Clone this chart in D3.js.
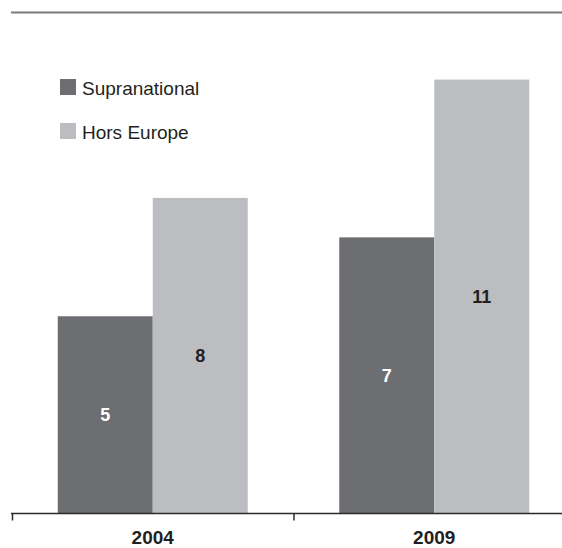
<!DOCTYPE html>
<html>
<head>
<meta charset="utf-8">
<script src="https://cdn.jsdelivr.net/npm/d3@7/dist/d3.min.js"></script>
<style>
  html, body { margin: 0; padding: 0; background: #fff; }
  svg { display: block; font-family: "Liberation Sans", Arial, Helvetica, sans-serif; }
</style>
</head>
<body>
<svg id="chart" width="562" height="548"></svg>
<script>
// Categories, series and values
const years = ["2004", "2009"];
const seriesNames = ["Supranational", "Hors Europe"];
const supranational = [5, 7];
const horsEurope = [8, 11];
const seriesColors = ["#6d6e71", "#bcbdc1"];
const labelColors = ["#ffffff", "#231f20"];

const rows = years.map((y, i) => ({ year: y, values: [supranational[i], horsEurope[i]] }));

const svg = d3.select("#chart");
const baseY = 513.5;
const topY = 12.5;

const x = d3.scaleBand().domain(years).range([12, 575]);
const y = d3.scaleLinear().domain([0, 12.7]).range([baseY, topY]);
const xInner = d3.scaleBand().domain(d3.range(seriesNames.length)).range([0, 190]);

// Top rule
svg.append("line")
  .attr("x1", 11).attr("x2", 562)
  .attr("y1", topY).attr("y2", topY)
  .attr("stroke", "#7a7a7a").attr("stroke-width", 2);

// Bars
const groups = svg.selectAll("g.group")
  .data(rows)
  .join("g")
  .attr("class", "group")
  .attr("transform", d => `translate(${x(d.year) + x.bandwidth() / 2 - 95},0)`);

groups.selectAll("rect")
  .data(d => d.values)
  .join("rect")
  .attr("x", (v, i) => xInner(i))
  .attr("width", xInner.bandwidth())
  .attr("y", v => y(v))
  .attr("height", v => baseY - y(v))
  .attr("fill", (v, i) => seriesColors[i]);

// Value labels centred in each bar
groups.selectAll("text.value")
  .data(d => d.values)
  .join("text")
  .attr("class", "value")
  .attr("x", (v, i) => xInner(i) + xInner.bandwidth() / 2)
  .attr("y", v => (y(v) + baseY) / 2)
  .attr("dy", "0.36em")
  .attr("text-anchor", "middle")
  .attr("font-size", 18)
  .attr("font-weight", "bold")
  .attr("fill", (v, i) => labelColors[i])
  .text(v => v);

// Category axis
const axisG = svg.append("g");
axisG.append("line")
  .attr("x1", 11).attr("x2", 562)
  .attr("y1", baseY).attr("y2", baseY)
  .attr("stroke", "#2b2b2b").attr("stroke-width", 1.5);
axisG.selectAll("line.tick")
  .data(years)
  .join("line")
  .attr("class", "tick")
  .attr("x1", d => x(d) + 0.5).attr("x2", d => x(d) + 0.5)
  .attr("y1", baseY).attr("y2", baseY + 7)
  .attr("stroke", "#2b2b2b").attr("stroke-width", 1.5);
axisG.selectAll("text.year")
  .data(years)
  .join("text")
  .attr("class", "year")
  .attr("x", d => x(d) + x.bandwidth() / 2)
  .attr("y", 544)
  .attr("text-anchor", "middle")
  .attr("font-size", 19)
  .attr("font-weight", "bold")
  .attr("fill", "#231f20")
  .text(d => d);

// Legend
const legend = svg.append("g").attr("transform", "translate(60,79)");
const items = legend.selectAll("g")
  .data(seriesNames)
  .join("g")
  .attr("transform", (d, i) => `translate(0,${i * 44})`);
items.append("rect")
  .attr("width", 16).attr("height", 16)
  .attr("fill", (d, i) => seriesColors[i]);
items.append("text")
  .attr("x", 22).attr("y", 16)
  .attr("font-size", 19)
  .attr("fill", "#231f20")
  .text(d => d);
</script>
</body>
</html>
